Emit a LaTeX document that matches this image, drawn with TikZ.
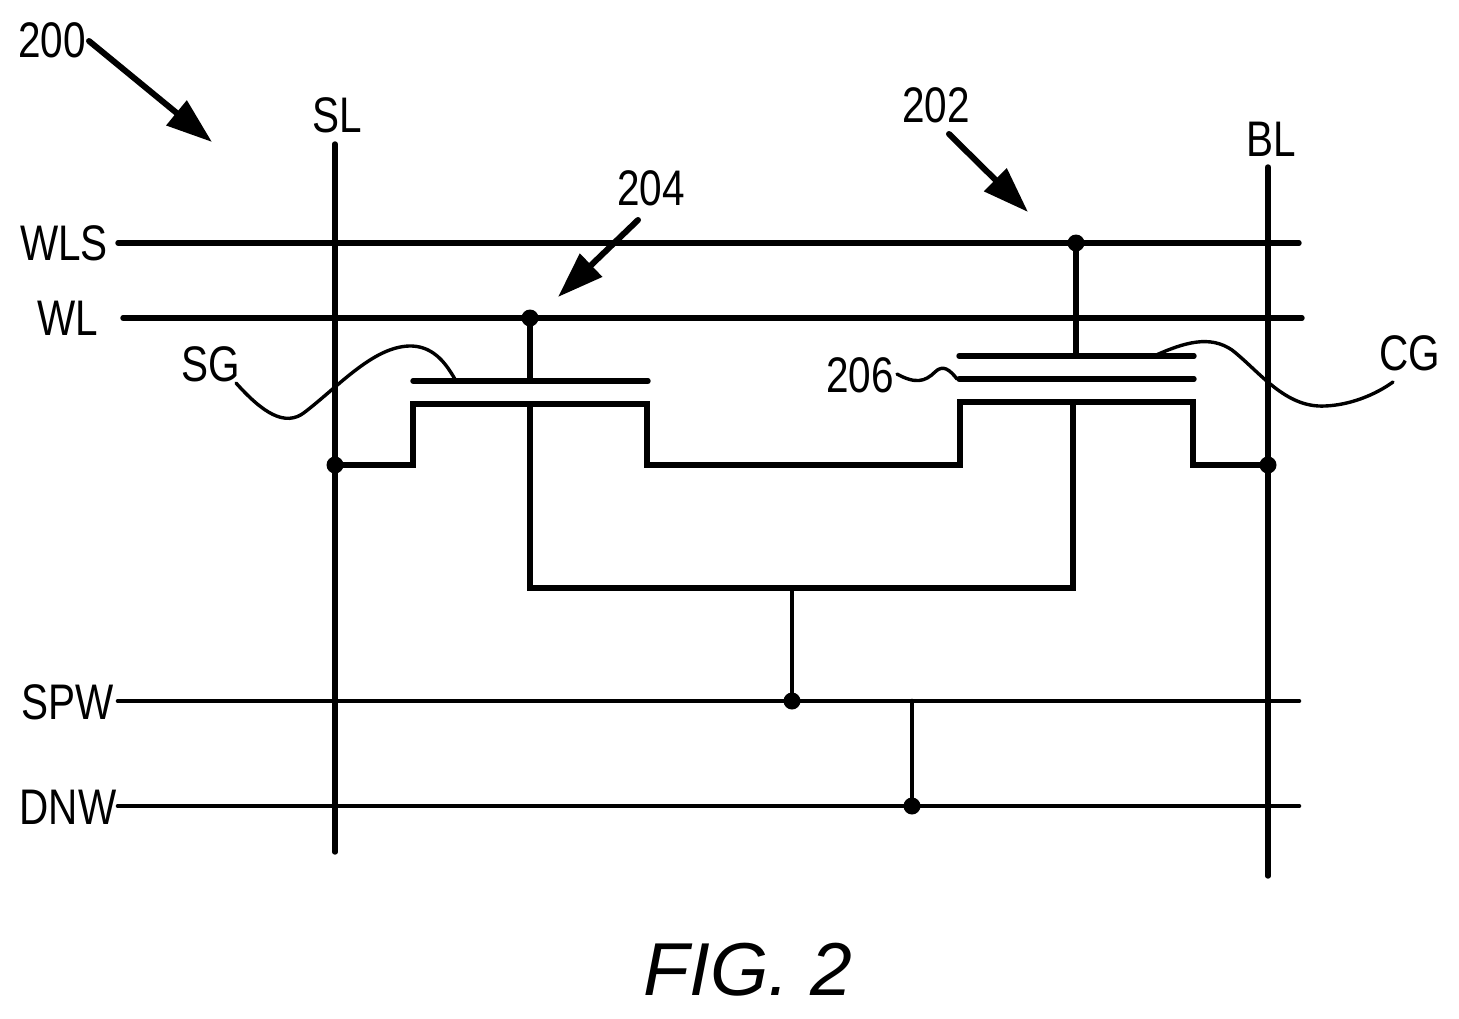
\documentclass[tikz,border=0pt]{standalone}
\usepackage{fontspec}
\setmainfont{Liberation Sans}
\usetikzlibrary{arrows.meta}
\tikzset{
  wire/.style={line width=5.4pt,line cap=round,line join=miter},
  thinw/.style={line width=4.6pt,line cap=round},
  lead/.style={line width=3.4pt,line cap=round},
  dotn/.style={circle,fill=black,inner sep=0pt,minimum size=17pt},
  lbl/.style={inner sep=0pt,font=\fontsize{50}{50}\selectfont,xscale=.81},
  ptr/.style={line width=6pt,line cap=round,-{Triangle[length=46pt,width=31pt]}},
}
\begin{document}
\begin{tikzpicture}[x=1pt,y=-1pt]
\useasboundingbox[fill=white] (0,0) rectangle (1459,1018);
% labels
\node[lbl] (l200) at (52,40) {200};
\node[lbl] (lSL) at (337,115) {SL};
\node[lbl] (l202) at (936,105) {202};
\node[lbl] (lBL) at (1271,139) {BL};
\node[lbl] (l204) at (651,188) {204};
\node[lbl] (lWLS) at (64,243) {WLS};
\node[lbl] (lWL) at (68,318) {WL};
\node[lbl] (lSG) at (211,364) {SG};
\node[lbl] (l206) at (860,375) {206};
\node[lbl] (lCG) at (1410,353) {CG};
\node[lbl] (lSPW) at (68,702) {SPW};
\node[lbl] (lDNW) at (68,807) {DNW};
\node[inner sep=0pt,font=\itshape\fontsize{75}{75}\selectfont] (fig) at (748,970) {FIG. 2};
% coordinates
\coordinate (a200) at (89,41); \coordinate (b200) at (212,142);
\coordinate (a202) at (949,134); \coordinate (b202) at (1028,212);
\coordinate (a204) at (638,220); \coordinate (b204) at (558,297);
% pointers
\draw[ptr] (a200) -- (b200);
\draw[ptr] (a202) -- (b202);
\draw[ptr] (a204) -- (b204);
% rails
\coordinate (sl1) at (335,144); \coordinate (sl2) at (335,852);
\coordinate (bl1) at (1268,167); \coordinate (bl2) at (1268,876);
\draw[wire] (sl1) -- (sl2);
\draw[wire] (bl1) -- (bl2);
\coordinate (wls1) at (118,243); \coordinate (wls2) at (1299,243);
\coordinate (wl1) at (123,318); \coordinate (wl2) at (1302,318);
\coordinate (spw1) at (118,701); \coordinate (spw2) at (1299,701);
\coordinate (dnw1) at (118,806); \coordinate (dnw2) at (1299,806);
\draw[wire] (wls1) -- (wls2);
\draw[wire] (wl1) -- (wl2);
\draw[thinw] (spw1) -- (spw2);
\draw[thinw] (dnw1) -- (dnw2);
% dots
\node[dotn] (dA) at (1076,243) {};
\node[dotn] (dB) at (530,318) {};
\node[dotn] (dC) at (335,465) {};
\node[dotn] (dD) at (1268,465) {};
\node[dotn] (dE) at (792,701) {};
\node[dotn] (dF) at (912,806) {};
% channel
\draw[wire] (dC.center) -- (413,465) -- (413,404) -- (647,404) -- (647,465) -- (960,465) -- (960,402) -- (1193,402) -- (1193,465) -- (dD.center);
% gates
\draw[wire] (dB.center) -- (530,381);
\draw[wire] (413,381) -- (648,381);
\draw[wire] (dA.center) -- (1076,356);
\draw[wire] (959,356) -- (1194,356);
\draw[wire] (959,379) -- (1194,379);
% body
\draw[wire] (530,404) -- (530,588) -- (1073,588) -- (1073,402);
\draw[thinw] (792,588) -- (dE.center);
\draw[thinw] (912,701) -- (dF.center);
% leads
\coordinate (sgE) at (456,381);
\draw[lead] (236,383) .. controls (262,412) and (285,428) .. (305,412) .. controls (340,385) and (375,345) .. (412,346) .. controls (435,347) and (447,365) .. (sgE);
\coordinate (cgS) at (1154,356);
\draw[lead] (cgS) .. controls (1185,342) and (1210,335) .. (1232,350) .. controls (1260,372) and (1285,408) .. (1325,406) .. controls (1350,405) and (1375,395) .. (1393,382);
\draw[lead] (897,374) .. controls (915,384) and (925,382) .. (935,372) .. controls (943,364) and (950,370) .. (957,379);
\end{tikzpicture}
\end{document}
